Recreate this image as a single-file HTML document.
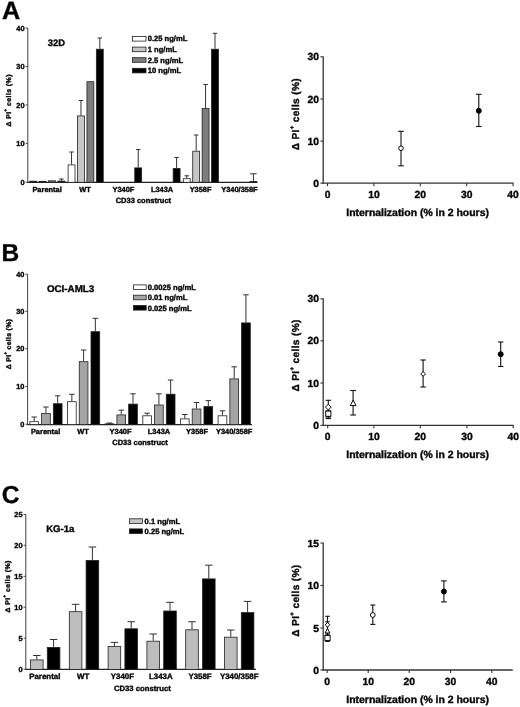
<!DOCTYPE html>
<html><head><meta charset="utf-8"><title>Figure</title>
<style>
html,body{margin:0;padding:0;background:#fff;}
svg{display:block;text-rendering:geometricPrecision;will-change:transform;font-family:"Liberation Sans",sans-serif;font-weight:bold;fill:#000;filter:blur(0.32px);}
</style></head><body>
<svg width="520" height="707" viewBox="0 0 520 707">
<rect x="0" y="0" width="520" height="707" fill="#fff" stroke="none"/>
<text x="2.00" y="18.70" font-size="25.2" text-anchor="start" stroke="#111" stroke-width="0.4" >A</text>
<line x1="27.80" y1="28.00" x2="27.80" y2="182.30" stroke="#444" stroke-width="1"/>
<line x1="27.30" y1="182.30" x2="257.50" y2="182.30" stroke="#222" stroke-width="1.2"/>
<line x1="25.60" y1="28.10" x2="27.80" y2="28.10" stroke="#444" stroke-width="1"/>
<text x="24.60" y="30.70" font-size="7.4" text-anchor="end" stroke="#111" stroke-width="0.4" >40</text>
<line x1="25.60" y1="66.50" x2="27.80" y2="66.50" stroke="#444" stroke-width="1"/>
<text x="24.60" y="69.10" font-size="7.4" text-anchor="end" stroke="#111" stroke-width="0.4" >30</text>
<line x1="25.60" y1="105.00" x2="27.80" y2="105.00" stroke="#444" stroke-width="1"/>
<text x="24.60" y="107.60" font-size="7.4" text-anchor="end" stroke="#111" stroke-width="0.4" >20</text>
<line x1="25.60" y1="143.40" x2="27.80" y2="143.40" stroke="#444" stroke-width="1"/>
<text x="24.60" y="146.00" font-size="7.4" text-anchor="end" stroke="#111" stroke-width="0.4" >10</text>
<line x1="25.60" y1="182.20" x2="27.80" y2="182.20" stroke="#444" stroke-width="1"/>
<text x="24.60" y="184.80" font-size="7.4" text-anchor="end" stroke="#111" stroke-width="0.4" >0</text>
<text transform="translate(11.30,100.30) rotate(-90)" font-size="6.9" text-anchor="middle" letter-spacing="0.44" stroke="#111" stroke-width="0.4">&#916; PI<tspan dy="-4.0" font-size="4.4">+</tspan><tspan dy="4.0"> cells (%)</tspan></text>
<text x="47.80" y="46.10" font-size="9.4" text-anchor="start" stroke="#111" stroke-width="0.4" >32D</text>
<rect x="132.40" y="36.50" width="13.60" height="4.60" fill="#fff" stroke="#222" stroke-width="0.8"/>
<text x="147.70" y="41.40" font-size="7.6" text-anchor="start" stroke="#111" stroke-width="0.4" >0.25 ng/mL</text>
<rect x="132.40" y="47.10" width="13.60" height="4.60" fill="#c6c6c6" stroke="#222" stroke-width="0.8"/>
<text x="147.70" y="52.00" font-size="7.6" text-anchor="start" stroke="#111" stroke-width="0.4" >1 ng/mL</text>
<rect x="132.40" y="57.70" width="13.60" height="4.60" fill="#7d7d7d" stroke="#222" stroke-width="0.8"/>
<text x="147.70" y="62.60" font-size="7.6" text-anchor="start" stroke="#111" stroke-width="0.4" >2.5 ng/mL</text>
<rect x="132.40" y="68.30" width="13.60" height="4.60" fill="#000" stroke="#222" stroke-width="0.8"/>
<text x="147.70" y="73.20" font-size="7.6" text-anchor="start" stroke="#111" stroke-width="0.4" >10 ng/mL</text>
<rect x="29.30" y="180.80" width="7.70" height="1.50" fill="#222"/>
<rect x="38.72" y="180.90" width="7.70" height="1.40" fill="#222"/>
<rect x="48.54" y="180.80" width="6.90" height="1.50" fill="#7d7d7d" stroke="#222" stroke-width="0.8"/>
<line x1="61.41" y1="179.00" x2="61.41" y2="181.20" stroke="#333" stroke-width="1"/>
<line x1="59.16" y1="179.00" x2="63.66" y2="179.00" stroke="#333" stroke-width="1"/>
<rect x="57.56" y="180.70" width="7.70" height="1.60" fill="#222"/>
<line x1="71.55" y1="152.00" x2="71.55" y2="164.50" stroke="#333" stroke-width="1"/>
<line x1="69.30" y1="152.00" x2="73.80" y2="152.00" stroke="#333" stroke-width="1"/>
<rect x="68.10" y="164.90" width="6.90" height="17.40" fill="#fff" stroke="#222" stroke-width="0.8"/>
<line x1="80.97" y1="100.50" x2="80.97" y2="115.50" stroke="#333" stroke-width="1"/>
<line x1="78.72" y1="100.50" x2="83.22" y2="100.50" stroke="#333" stroke-width="1"/>
<rect x="77.52" y="115.90" width="6.90" height="66.40" fill="#c6c6c6" stroke="#222" stroke-width="0.8"/>
<rect x="86.94" y="81.70" width="6.90" height="100.60" fill="#7d7d7d" stroke="#222" stroke-width="0.8"/>
<line x1="99.81" y1="38.00" x2="99.81" y2="48.80" stroke="#333" stroke-width="1"/>
<line x1="97.56" y1="38.00" x2="102.06" y2="38.00" stroke="#333" stroke-width="1"/>
<rect x="96.36" y="49.20" width="6.90" height="133.10" fill="#000" stroke="#222" stroke-width="0.8"/>
<line x1="138.21" y1="149.50" x2="138.21" y2="167.50" stroke="#333" stroke-width="1"/>
<line x1="135.96" y1="149.50" x2="140.46" y2="149.50" stroke="#333" stroke-width="1"/>
<rect x="134.76" y="167.90" width="6.90" height="14.40" fill="#000" stroke="#222" stroke-width="0.8"/>
<line x1="176.61" y1="157.50" x2="176.61" y2="168.00" stroke="#333" stroke-width="1"/>
<line x1="174.36" y1="157.50" x2="178.86" y2="157.50" stroke="#333" stroke-width="1"/>
<rect x="173.16" y="168.40" width="6.90" height="13.90" fill="#000" stroke="#222" stroke-width="0.8"/>
<line x1="186.75" y1="175.80" x2="186.75" y2="178.30" stroke="#333" stroke-width="1"/>
<line x1="184.50" y1="175.80" x2="189.00" y2="175.80" stroke="#333" stroke-width="1"/>
<rect x="183.30" y="178.70" width="6.90" height="3.60" fill="#fff" stroke="#222" stroke-width="0.8"/>
<line x1="196.17" y1="135.00" x2="196.17" y2="150.80" stroke="#333" stroke-width="1"/>
<line x1="193.92" y1="135.00" x2="198.42" y2="135.00" stroke="#333" stroke-width="1"/>
<rect x="192.72" y="151.20" width="6.90" height="31.10" fill="#c6c6c6" stroke="#222" stroke-width="0.8"/>
<line x1="205.59" y1="84.50" x2="205.59" y2="108.00" stroke="#333" stroke-width="1"/>
<line x1="203.34" y1="84.50" x2="207.84" y2="84.50" stroke="#333" stroke-width="1"/>
<rect x="202.14" y="108.40" width="6.90" height="73.90" fill="#7d7d7d" stroke="#222" stroke-width="0.8"/>
<line x1="215.01" y1="33.30" x2="215.01" y2="48.80" stroke="#333" stroke-width="1"/>
<line x1="212.76" y1="33.30" x2="217.26" y2="33.30" stroke="#333" stroke-width="1"/>
<rect x="211.56" y="49.20" width="6.90" height="133.10" fill="#000" stroke="#222" stroke-width="0.8"/>
<line x1="253.41" y1="173.80" x2="253.41" y2="181.60" stroke="#333" stroke-width="1"/>
<line x1="250.16" y1="173.80" x2="256.66" y2="173.80" stroke="#333" stroke-width="1"/>
<rect x="249.56" y="181.10" width="7.70" height="1.20" fill="#222"/>
<text x="47.10" y="191.80" font-size="7.45" text-anchor="middle" stroke="#111" stroke-width="0.4" >Parental</text>
<text x="85.00" y="191.80" font-size="7.45" text-anchor="middle" stroke="#111" stroke-width="0.4" >WT</text>
<text x="123.40" y="191.80" font-size="7.45" text-anchor="middle" stroke="#111" stroke-width="0.4" >Y340F</text>
<text x="162.10" y="191.80" font-size="7.45" text-anchor="middle" stroke="#111" stroke-width="0.4" >L343A</text>
<text x="200.60" y="191.80" font-size="7.45" text-anchor="middle" stroke="#111" stroke-width="0.4" >Y358F</text>
<text x="239.40" y="191.80" font-size="7.45" text-anchor="middle" stroke="#111" stroke-width="0.4" >Y340/358F</text>
<text x="143.40" y="202.80" font-size="7.5" text-anchor="middle" stroke="#111" stroke-width="0.4" >CD33 construct</text>
<text x="1.60" y="261.30" font-size="24.5" text-anchor="start" stroke="#111" stroke-width="0.4" >B</text>
<line x1="27.60" y1="274.00" x2="27.60" y2="424.60" stroke="#444" stroke-width="1"/>
<line x1="27.10" y1="424.60" x2="252.00" y2="424.60" stroke="#222" stroke-width="1.2"/>
<line x1="25.40" y1="274.20" x2="27.60" y2="274.20" stroke="#444" stroke-width="1"/>
<text x="24.40" y="276.80" font-size="7.4" text-anchor="end" stroke="#111" stroke-width="0.4" >40</text>
<line x1="25.40" y1="311.40" x2="27.60" y2="311.40" stroke="#444" stroke-width="1"/>
<text x="24.40" y="314.00" font-size="7.4" text-anchor="end" stroke="#111" stroke-width="0.4" >30</text>
<line x1="25.40" y1="348.80" x2="27.60" y2="348.80" stroke="#444" stroke-width="1"/>
<text x="24.40" y="351.40" font-size="7.4" text-anchor="end" stroke="#111" stroke-width="0.4" >20</text>
<line x1="25.40" y1="386.60" x2="27.60" y2="386.60" stroke="#444" stroke-width="1"/>
<text x="24.40" y="389.20" font-size="7.4" text-anchor="end" stroke="#111" stroke-width="0.4" >10</text>
<line x1="25.40" y1="424.20" x2="27.60" y2="424.20" stroke="#444" stroke-width="1"/>
<text x="24.40" y="426.80" font-size="7.4" text-anchor="end" stroke="#111" stroke-width="0.4" >0</text>
<text transform="translate(11.30,344.00) rotate(-90)" font-size="6.9" text-anchor="middle" letter-spacing="0.3" stroke="#111" stroke-width="0.4">&#916; PI<tspan dy="-4.0" font-size="4.4">+</tspan><tspan dy="4.0"> cells (%)</tspan></text>
<text x="46.90" y="292.10" font-size="9.8" text-anchor="start" stroke="#111" stroke-width="0.4" >OCI-AML3</text>
<rect x="133.40" y="284.90" width="12.80" height="4.60" fill="#fff" stroke="#222" stroke-width="0.8"/>
<text x="147.70" y="289.90" font-size="7.6" text-anchor="start" stroke="#111" stroke-width="0.4" >0.0025 ng/mL</text>
<rect x="133.40" y="295.20" width="12.80" height="4.60" fill="#a4a4a4" stroke="#222" stroke-width="0.8"/>
<text x="147.70" y="300.20" font-size="7.6" text-anchor="start" stroke="#111" stroke-width="0.4" >0.01 ng/mL</text>
<rect x="133.40" y="305.50" width="12.80" height="4.60" fill="#000" stroke="#222" stroke-width="0.8"/>
<text x="147.70" y="310.50" font-size="7.6" text-anchor="start" stroke="#111" stroke-width="0.4" >0.025 ng/mL</text>
<line x1="34.20" y1="417.00" x2="34.20" y2="421.30" stroke="#333" stroke-width="1"/>
<line x1="31.45" y1="417.00" x2="36.95" y2="417.00" stroke="#333" stroke-width="1"/>
<rect x="29.85" y="421.70" width="8.70" height="2.90" fill="#fff" stroke="#222" stroke-width="0.8"/>
<line x1="45.95" y1="407.00" x2="45.95" y2="413.00" stroke="#333" stroke-width="1"/>
<line x1="43.20" y1="407.00" x2="48.70" y2="407.00" stroke="#333" stroke-width="1"/>
<rect x="41.60" y="413.40" width="8.70" height="11.20" fill="#a4a4a4" stroke="#222" stroke-width="0.8"/>
<line x1="57.70" y1="395.80" x2="57.70" y2="403.30" stroke="#333" stroke-width="1"/>
<line x1="54.95" y1="395.80" x2="60.45" y2="395.80" stroke="#333" stroke-width="1"/>
<rect x="53.35" y="403.70" width="8.70" height="20.90" fill="#000" stroke="#222" stroke-width="0.8"/>
<line x1="71.85" y1="394.30" x2="71.85" y2="401.30" stroke="#333" stroke-width="1"/>
<line x1="69.10" y1="394.30" x2="74.60" y2="394.30" stroke="#333" stroke-width="1"/>
<rect x="67.50" y="401.70" width="8.70" height="22.90" fill="#fff" stroke="#222" stroke-width="0.8"/>
<line x1="83.60" y1="350.00" x2="83.60" y2="361.30" stroke="#333" stroke-width="1"/>
<line x1="80.85" y1="350.00" x2="86.35" y2="350.00" stroke="#333" stroke-width="1"/>
<rect x="79.25" y="361.70" width="8.70" height="62.90" fill="#a4a4a4" stroke="#222" stroke-width="0.8"/>
<line x1="95.35" y1="318.30" x2="95.35" y2="331.30" stroke="#333" stroke-width="1"/>
<line x1="92.60" y1="318.30" x2="98.10" y2="318.30" stroke="#333" stroke-width="1"/>
<rect x="91.00" y="331.70" width="8.70" height="92.90" fill="#000" stroke="#222" stroke-width="0.8"/>
<line x1="109.50" y1="423.00" x2="109.50" y2="423.90" stroke="#333" stroke-width="1"/>
<line x1="106.75" y1="423.00" x2="112.25" y2="423.00" stroke="#333" stroke-width="1"/>
<rect x="104.75" y="423.40" width="9.50" height="1.20" fill="#222"/>
<line x1="121.25" y1="410.20" x2="121.25" y2="414.50" stroke="#333" stroke-width="1"/>
<line x1="118.50" y1="410.20" x2="124.00" y2="410.20" stroke="#333" stroke-width="1"/>
<rect x="116.90" y="414.90" width="8.70" height="9.70" fill="#a4a4a4" stroke="#222" stroke-width="0.8"/>
<line x1="133.00" y1="393.80" x2="133.00" y2="403.70" stroke="#333" stroke-width="1"/>
<line x1="130.25" y1="393.80" x2="135.75" y2="393.80" stroke="#333" stroke-width="1"/>
<rect x="128.65" y="404.10" width="8.70" height="20.50" fill="#000" stroke="#222" stroke-width="0.8"/>
<line x1="147.15" y1="413.20" x2="147.15" y2="415.40" stroke="#333" stroke-width="1"/>
<line x1="144.40" y1="413.20" x2="149.90" y2="413.20" stroke="#333" stroke-width="1"/>
<rect x="142.80" y="415.80" width="8.70" height="8.80" fill="#fff" stroke="#222" stroke-width="0.8"/>
<line x1="158.90" y1="393.80" x2="158.90" y2="404.60" stroke="#333" stroke-width="1"/>
<line x1="156.15" y1="393.80" x2="161.65" y2="393.80" stroke="#333" stroke-width="1"/>
<rect x="154.55" y="405.00" width="8.70" height="19.60" fill="#a4a4a4" stroke="#222" stroke-width="0.8"/>
<line x1="170.65" y1="380.00" x2="170.65" y2="393.80" stroke="#333" stroke-width="1"/>
<line x1="167.90" y1="380.00" x2="173.40" y2="380.00" stroke="#333" stroke-width="1"/>
<rect x="166.30" y="394.20" width="8.70" height="30.40" fill="#000" stroke="#222" stroke-width="0.8"/>
<line x1="184.80" y1="414.50" x2="184.80" y2="418.50" stroke="#333" stroke-width="1"/>
<line x1="182.05" y1="414.50" x2="187.55" y2="414.50" stroke="#333" stroke-width="1"/>
<rect x="180.45" y="418.90" width="8.70" height="5.70" fill="#fff" stroke="#222" stroke-width="0.8"/>
<line x1="196.55" y1="402.50" x2="196.55" y2="408.60" stroke="#333" stroke-width="1"/>
<line x1="193.80" y1="402.50" x2="199.30" y2="402.50" stroke="#333" stroke-width="1"/>
<rect x="192.20" y="409.00" width="8.70" height="15.60" fill="#a4a4a4" stroke="#222" stroke-width="0.8"/>
<line x1="208.30" y1="400.60" x2="208.30" y2="406.20" stroke="#333" stroke-width="1"/>
<line x1="205.55" y1="400.60" x2="211.05" y2="400.60" stroke="#333" stroke-width="1"/>
<rect x="203.95" y="406.60" width="8.70" height="18.00" fill="#000" stroke="#222" stroke-width="0.8"/>
<line x1="222.45" y1="410.80" x2="222.45" y2="415.40" stroke="#333" stroke-width="1"/>
<line x1="219.70" y1="410.80" x2="225.20" y2="410.80" stroke="#333" stroke-width="1"/>
<rect x="218.10" y="415.80" width="8.70" height="8.80" fill="#fff" stroke="#222" stroke-width="0.8"/>
<line x1="234.20" y1="366.80" x2="234.20" y2="378.50" stroke="#333" stroke-width="1"/>
<line x1="231.45" y1="366.80" x2="236.95" y2="366.80" stroke="#333" stroke-width="1"/>
<rect x="229.85" y="378.90" width="8.70" height="45.70" fill="#a4a4a4" stroke="#222" stroke-width="0.8"/>
<line x1="245.95" y1="294.80" x2="245.95" y2="322.50" stroke="#333" stroke-width="1"/>
<line x1="243.20" y1="294.80" x2="248.70" y2="294.80" stroke="#333" stroke-width="1"/>
<rect x="241.60" y="322.90" width="8.70" height="101.70" fill="#000" stroke="#222" stroke-width="0.8"/>
<text x="45.60" y="433.80" font-size="7.45" text-anchor="middle" stroke="#111" stroke-width="0.4" >Parental</text>
<text x="83.10" y="433.80" font-size="7.45" text-anchor="middle" stroke="#111" stroke-width="0.4" >WT</text>
<text x="120.50" y="433.80" font-size="7.45" text-anchor="middle" stroke="#111" stroke-width="0.4" >Y340F</text>
<text x="159.00" y="433.80" font-size="7.45" text-anchor="middle" stroke="#111" stroke-width="0.4" >L343A</text>
<text x="197.00" y="433.80" font-size="7.45" text-anchor="middle" stroke="#111" stroke-width="0.4" >Y358F</text>
<text x="234.20" y="433.80" font-size="7.45" text-anchor="middle" stroke="#111" stroke-width="0.4" >Y340/358F</text>
<text x="140.00" y="444.70" font-size="7.5" text-anchor="middle" stroke="#111" stroke-width="0.4" >CD33 construct</text>
<text x="1.80" y="503.30" font-size="24.5" text-anchor="start" stroke="#111" stroke-width="0.4" >C</text>
<line x1="25.80" y1="514.30" x2="25.80" y2="669.40" stroke="#444" stroke-width="1"/>
<line x1="25.30" y1="669.40" x2="256.00" y2="669.40" stroke="#222" stroke-width="1.2"/>
<line x1="23.60" y1="514.50" x2="25.80" y2="514.50" stroke="#444" stroke-width="1"/>
<text x="22.60" y="517.10" font-size="7.4" text-anchor="end" stroke="#111" stroke-width="0.4" >25</text>
<line x1="23.60" y1="545.30" x2="25.80" y2="545.30" stroke="#444" stroke-width="1"/>
<text x="22.60" y="547.90" font-size="7.4" text-anchor="end" stroke="#111" stroke-width="0.4" >20</text>
<line x1="23.60" y1="576.30" x2="25.80" y2="576.30" stroke="#444" stroke-width="1"/>
<text x="22.60" y="578.90" font-size="7.4" text-anchor="end" stroke="#111" stroke-width="0.4" >15</text>
<line x1="23.60" y1="607.20" x2="25.80" y2="607.20" stroke="#444" stroke-width="1"/>
<text x="22.60" y="609.80" font-size="7.4" text-anchor="end" stroke="#111" stroke-width="0.4" >10</text>
<line x1="23.60" y1="638.20" x2="25.80" y2="638.20" stroke="#444" stroke-width="1"/>
<text x="22.60" y="640.80" font-size="7.4" text-anchor="end" stroke="#111" stroke-width="0.4" >5</text>
<line x1="23.60" y1="669.20" x2="25.80" y2="669.20" stroke="#444" stroke-width="1"/>
<text x="22.60" y="671.80" font-size="7.4" text-anchor="end" stroke="#111" stroke-width="0.4" >0</text>
<text transform="translate(10.00,586.40) rotate(-90)" font-size="6.9" text-anchor="middle" letter-spacing="0.42" stroke="#111" stroke-width="0.4">&#916; PI<tspan dy="-4.0" font-size="4.4">+</tspan><tspan dy="4.0"> cells (%)</tspan></text>
<text x="46.20" y="532.10" font-size="9.6" text-anchor="start" stroke="#111" stroke-width="0.4" >KG-1a</text>
<rect x="129.40" y="518.80" width="13.00" height="4.60" fill="#c6c6c6" stroke="#222" stroke-width="0.8"/>
<text x="144.60" y="523.80" font-size="7.6" text-anchor="start" stroke="#111" stroke-width="0.4" >0.1 ng/mL</text>
<rect x="129.40" y="528.90" width="13.00" height="4.60" fill="#000" stroke="#222" stroke-width="0.8"/>
<text x="144.60" y="533.90" font-size="7.6" text-anchor="start" stroke="#111" stroke-width="0.4" >0.25 ng/mL</text>
<line x1="36.80" y1="655.50" x2="36.80" y2="659.50" stroke="#333" stroke-width="1"/>
<line x1="33.05" y1="655.50" x2="40.55" y2="655.50" stroke="#333" stroke-width="1"/>
<rect x="30.50" y="659.90" width="12.60" height="9.50" fill="#bdbdbd" stroke="#222" stroke-width="0.8"/>
<line x1="53.60" y1="639.50" x2="53.60" y2="647.00" stroke="#333" stroke-width="1"/>
<line x1="49.85" y1="639.50" x2="57.35" y2="639.50" stroke="#333" stroke-width="1"/>
<rect x="47.30" y="647.40" width="12.60" height="22.00" fill="#000" stroke="#222" stroke-width="0.8"/>
<line x1="75.60" y1="604.30" x2="75.60" y2="611.30" stroke="#333" stroke-width="1"/>
<line x1="71.85" y1="604.30" x2="79.35" y2="604.30" stroke="#333" stroke-width="1"/>
<rect x="69.30" y="611.70" width="12.60" height="57.70" fill="#bdbdbd" stroke="#222" stroke-width="0.8"/>
<line x1="92.40" y1="547.00" x2="92.40" y2="560.00" stroke="#333" stroke-width="1"/>
<line x1="88.65" y1="547.00" x2="96.15" y2="547.00" stroke="#333" stroke-width="1"/>
<rect x="86.10" y="560.40" width="12.60" height="109.00" fill="#000" stroke="#222" stroke-width="0.8"/>
<line x1="114.40" y1="642.40" x2="114.40" y2="646.00" stroke="#333" stroke-width="1"/>
<line x1="110.65" y1="642.40" x2="118.15" y2="642.40" stroke="#333" stroke-width="1"/>
<rect x="108.10" y="646.40" width="12.60" height="23.00" fill="#bdbdbd" stroke="#222" stroke-width="0.8"/>
<line x1="131.20" y1="621.70" x2="131.20" y2="628.40" stroke="#333" stroke-width="1"/>
<line x1="127.45" y1="621.70" x2="134.95" y2="621.70" stroke="#333" stroke-width="1"/>
<rect x="124.90" y="628.80" width="12.60" height="40.60" fill="#000" stroke="#222" stroke-width="0.8"/>
<line x1="153.20" y1="634.00" x2="153.20" y2="640.80" stroke="#333" stroke-width="1"/>
<line x1="149.45" y1="634.00" x2="156.95" y2="634.00" stroke="#333" stroke-width="1"/>
<rect x="146.90" y="641.20" width="12.60" height="28.20" fill="#bdbdbd" stroke="#222" stroke-width="0.8"/>
<line x1="170.00" y1="602.30" x2="170.00" y2="610.60" stroke="#333" stroke-width="1"/>
<line x1="166.25" y1="602.30" x2="173.75" y2="602.30" stroke="#333" stroke-width="1"/>
<rect x="163.70" y="611.00" width="12.60" height="58.40" fill="#000" stroke="#222" stroke-width="0.8"/>
<line x1="192.00" y1="621.70" x2="192.00" y2="629.40" stroke="#333" stroke-width="1"/>
<line x1="188.25" y1="621.70" x2="195.75" y2="621.70" stroke="#333" stroke-width="1"/>
<rect x="185.70" y="629.80" width="12.60" height="39.60" fill="#bdbdbd" stroke="#222" stroke-width="0.8"/>
<line x1="208.80" y1="565.20" x2="208.80" y2="578.50" stroke="#333" stroke-width="1"/>
<line x1="205.05" y1="565.20" x2="212.55" y2="565.20" stroke="#333" stroke-width="1"/>
<rect x="202.50" y="578.90" width="12.60" height="90.50" fill="#000" stroke="#222" stroke-width="0.8"/>
<line x1="230.80" y1="630.00" x2="230.80" y2="636.80" stroke="#333" stroke-width="1"/>
<line x1="227.05" y1="630.00" x2="234.55" y2="630.00" stroke="#333" stroke-width="1"/>
<rect x="224.50" y="637.20" width="12.60" height="32.20" fill="#bdbdbd" stroke="#222" stroke-width="0.8"/>
<line x1="247.60" y1="601.40" x2="247.60" y2="612.20" stroke="#333" stroke-width="1"/>
<line x1="243.85" y1="601.40" x2="251.35" y2="601.40" stroke="#333" stroke-width="1"/>
<rect x="241.30" y="612.60" width="12.60" height="56.80" fill="#000" stroke="#222" stroke-width="0.8"/>
<text x="44.80" y="679.30" font-size="7.9" text-anchor="middle" stroke="#111" stroke-width="0.4" >Parental</text>
<text x="83.10" y="679.30" font-size="7.9" text-anchor="middle" stroke="#111" stroke-width="0.4" >WT</text>
<text x="122.40" y="679.30" font-size="7.9" text-anchor="middle" stroke="#111" stroke-width="0.4" >Y340F</text>
<text x="160.80" y="679.30" font-size="7.9" text-anchor="middle" stroke="#111" stroke-width="0.4" >L343A</text>
<text x="200.00" y="679.30" font-size="7.9" text-anchor="middle" stroke="#111" stroke-width="0.4" >Y358F</text>
<text x="239.20" y="679.30" font-size="7.9" text-anchor="middle" stroke="#111" stroke-width="0.4" >Y340/358F</text>
<text x="142.40" y="690.70" font-size="7.7" text-anchor="middle" stroke="#111" stroke-width="0.4" >CD33 construct</text>
<line x1="323.20" y1="56.50" x2="323.20" y2="183.20" stroke="#333" stroke-width="1.3"/>
<line x1="322.60" y1="183.20" x2="513.60" y2="183.20" stroke="#333" stroke-width="1.3"/>
<line x1="320.40" y1="56.80" x2="323.20" y2="56.80" stroke="#333" stroke-width="1.1"/>
<text x="319.00" y="60.40" font-size="10.3" text-anchor="end" stroke="#111" stroke-width="0.4" >30</text>
<line x1="320.40" y1="99.00" x2="323.20" y2="99.00" stroke="#333" stroke-width="1.1"/>
<text x="319.00" y="102.60" font-size="10.3" text-anchor="end" stroke="#111" stroke-width="0.4" >20</text>
<line x1="320.40" y1="141.10" x2="323.20" y2="141.10" stroke="#333" stroke-width="1.1"/>
<text x="319.00" y="144.70" font-size="10.3" text-anchor="end" stroke="#111" stroke-width="0.4" >10</text>
<line x1="320.40" y1="183.20" x2="323.20" y2="183.20" stroke="#333" stroke-width="1.1"/>
<text x="319.00" y="186.80" font-size="10.3" text-anchor="end" stroke="#111" stroke-width="0.4" >0</text>
<line x1="327.50" y1="183.20" x2="327.50" y2="186.20" stroke="#333" stroke-width="1.1"/>
<text x="327.50" y="197.60" font-size="10.3" text-anchor="middle" stroke="#111" stroke-width="0.4" >0</text>
<line x1="373.90" y1="183.20" x2="373.90" y2="186.20" stroke="#333" stroke-width="1.1"/>
<text x="373.90" y="197.60" font-size="10.3" text-anchor="middle" stroke="#111" stroke-width="0.4" >10</text>
<line x1="420.30" y1="183.20" x2="420.30" y2="186.20" stroke="#333" stroke-width="1.1"/>
<text x="420.30" y="197.60" font-size="10.3" text-anchor="middle" stroke="#111" stroke-width="0.4" >20</text>
<line x1="466.70" y1="183.20" x2="466.70" y2="186.20" stroke="#333" stroke-width="1.1"/>
<text x="466.70" y="197.60" font-size="10.3" text-anchor="middle" stroke="#111" stroke-width="0.4" >30</text>
<line x1="513.10" y1="183.20" x2="513.10" y2="186.20" stroke="#333" stroke-width="1.1"/>
<text x="513.10" y="197.60" font-size="10.3" text-anchor="middle" stroke="#111" stroke-width="0.4" >40</text>
<text transform="translate(298.50,114.20) rotate(-90)" font-size="10.1" text-anchor="middle" letter-spacing="0.35" stroke="#111" stroke-width="0.4">&#916; PI<tspan dy="-5.0" font-size="6.2">+</tspan><tspan dy="5.0"> cells (%)</tspan></text>
<text x="417.60" y="216.00" font-size="10.45" text-anchor="middle" stroke="#111" stroke-width="0.4" >Internalization (% in 2 hours)</text>
<line x1="401.00" y1="131.30" x2="401.00" y2="165.80" stroke="#111" stroke-width="1.1"/>
<line x1="398.20" y1="131.30" x2="403.80" y2="131.30" stroke="#111" stroke-width="1.1"/>
<line x1="398.20" y1="165.80" x2="403.80" y2="165.80" stroke="#111" stroke-width="1.1"/>
<circle cx="401.00" cy="148.30" r="2.3" fill="#fff" stroke="#000" stroke-width="0.95"/>
<line x1="478.80" y1="94.30" x2="478.80" y2="126.50" stroke="#111" stroke-width="1.1"/>
<line x1="476.00" y1="94.30" x2="481.60" y2="94.30" stroke="#111" stroke-width="1.1"/>
<line x1="476.00" y1="126.50" x2="481.60" y2="126.50" stroke="#111" stroke-width="1.1"/>
<circle cx="478.80" cy="110.80" r="2.5" fill="#000" stroke="#000" stroke-width="0.95"/>
<line x1="323.20" y1="298.50" x2="323.20" y2="425.30" stroke="#333" stroke-width="1.3"/>
<line x1="322.60" y1="425.30" x2="513.70" y2="425.30" stroke="#333" stroke-width="1.3"/>
<line x1="320.40" y1="298.80" x2="323.20" y2="298.80" stroke="#333" stroke-width="1.1"/>
<text x="319.00" y="302.40" font-size="10.3" text-anchor="end" stroke="#111" stroke-width="0.4" >30</text>
<line x1="320.40" y1="340.80" x2="323.20" y2="340.80" stroke="#333" stroke-width="1.1"/>
<text x="319.00" y="344.40" font-size="10.3" text-anchor="end" stroke="#111" stroke-width="0.4" >20</text>
<line x1="320.40" y1="383.00" x2="323.20" y2="383.00" stroke="#333" stroke-width="1.1"/>
<text x="319.00" y="386.60" font-size="10.3" text-anchor="end" stroke="#111" stroke-width="0.4" >10</text>
<line x1="320.40" y1="425.30" x2="323.20" y2="425.30" stroke="#333" stroke-width="1.1"/>
<text x="319.00" y="428.90" font-size="10.3" text-anchor="end" stroke="#111" stroke-width="0.4" >0</text>
<line x1="327.70" y1="425.30" x2="327.70" y2="428.30" stroke="#333" stroke-width="1.1"/>
<text x="327.70" y="439.50" font-size="10.3" text-anchor="middle" stroke="#111" stroke-width="0.4" >0</text>
<line x1="373.90" y1="425.30" x2="373.90" y2="428.30" stroke="#333" stroke-width="1.1"/>
<text x="373.90" y="439.50" font-size="10.3" text-anchor="middle" stroke="#111" stroke-width="0.4" >10</text>
<line x1="420.30" y1="425.30" x2="420.30" y2="428.30" stroke="#333" stroke-width="1.1"/>
<text x="420.30" y="439.50" font-size="10.3" text-anchor="middle" stroke="#111" stroke-width="0.4" >20</text>
<line x1="466.90" y1="425.30" x2="466.90" y2="428.30" stroke="#333" stroke-width="1.1"/>
<text x="466.90" y="439.50" font-size="10.3" text-anchor="middle" stroke="#111" stroke-width="0.4" >30</text>
<line x1="513.20" y1="425.30" x2="513.20" y2="428.30" stroke="#333" stroke-width="1.1"/>
<text x="513.20" y="439.50" font-size="10.3" text-anchor="middle" stroke="#111" stroke-width="0.4" >40</text>
<text transform="translate(298.50,355.40) rotate(-90)" font-size="10.1" text-anchor="middle" letter-spacing="0.35" stroke="#111" stroke-width="0.4">&#916; PI<tspan dy="-5.0" font-size="6.2">+</tspan><tspan dy="5.0"> cells (%)</tspan></text>
<text x="417.60" y="458.10" font-size="10.45" text-anchor="middle" stroke="#111" stroke-width="0.4" >Internalization (% in 2 hours)</text>
<line x1="328.30" y1="400.30" x2="328.30" y2="418.60" stroke="#111" stroke-width="1.1"/>
<line x1="325.60" y1="400.30" x2="331.00" y2="400.30" stroke="#111" stroke-width="1.1"/>
<line x1="325.60" y1="418.60" x2="331.00" y2="418.60" stroke="#111" stroke-width="1.1"/>
<line x1="328.30" y1="411.00" x2="328.30" y2="417.00" stroke="#111" stroke-width="1.1"/>
<line x1="325.60" y1="411.00" x2="331.00" y2="411.00" stroke="#111" stroke-width="1.1"/>
<line x1="325.60" y1="417.00" x2="331.00" y2="417.00" stroke="#111" stroke-width="1.1"/>
<polygon points="328.30,404.20 331.20,407.10 328.30,410.00 325.40,407.10" fill="#fff" stroke="#000" stroke-width="0.95"/>
<rect x="325.70" y="411.10" width="5.20" height="5.20" fill="#fff" stroke="#000" stroke-width="0.95"/>
<line x1="353.10" y1="390.50" x2="353.10" y2="415.00" stroke="#111" stroke-width="1.1"/>
<line x1="350.20" y1="390.50" x2="356.00" y2="390.50" stroke="#111" stroke-width="1.1"/>
<line x1="350.20" y1="415.00" x2="356.00" y2="415.00" stroke="#111" stroke-width="1.1"/>
<polygon points="353.10,400.20 356.00,405.60 350.20,405.60" fill="#fff" stroke="#000" stroke-width="0.95"/>
<line x1="423.10" y1="360.00" x2="423.10" y2="387.00" stroke="#111" stroke-width="1.1"/>
<line x1="420.40" y1="360.00" x2="425.80" y2="360.00" stroke="#111" stroke-width="1.1"/>
<line x1="420.40" y1="387.00" x2="425.80" y2="387.00" stroke="#111" stroke-width="1.1"/>
<polygon points="423.10,371.50 425.50,373.90 423.10,376.30 420.70,373.90" fill="#fff" stroke="#000" stroke-width="0.95"/>
<line x1="500.70" y1="342.00" x2="500.70" y2="366.50" stroke="#111" stroke-width="1.1"/>
<line x1="498.00" y1="342.00" x2="503.40" y2="342.00" stroke="#111" stroke-width="1.1"/>
<line x1="498.00" y1="366.50" x2="503.40" y2="366.50" stroke="#111" stroke-width="1.1"/>
<circle cx="500.70" cy="354.20" r="2.5" fill="#000" stroke="#000" stroke-width="0.95"/>
<line x1="323.20" y1="542.80" x2="323.20" y2="670.00" stroke="#333" stroke-width="1.3"/>
<line x1="322.60" y1="670.00" x2="512.80" y2="670.00" stroke="#333" stroke-width="1.3"/>
<line x1="320.40" y1="543.00" x2="323.20" y2="543.00" stroke="#333" stroke-width="1.1"/>
<text x="319.00" y="546.60" font-size="10.3" text-anchor="end" stroke="#111" stroke-width="0.4" >15</text>
<line x1="320.40" y1="585.50" x2="323.20" y2="585.50" stroke="#333" stroke-width="1.1"/>
<text x="319.00" y="589.10" font-size="10.3" text-anchor="end" stroke="#111" stroke-width="0.4" >10</text>
<line x1="320.40" y1="628.00" x2="323.20" y2="628.00" stroke="#333" stroke-width="1.1"/>
<text x="319.00" y="631.60" font-size="10.3" text-anchor="end" stroke="#111" stroke-width="0.4" >5</text>
<line x1="320.40" y1="670.00" x2="323.20" y2="670.00" stroke="#333" stroke-width="1.1"/>
<text x="319.00" y="673.60" font-size="10.3" text-anchor="end" stroke="#111" stroke-width="0.4" >0</text>
<line x1="327.20" y1="670.00" x2="327.20" y2="673.00" stroke="#333" stroke-width="1.1"/>
<text x="327.20" y="684.80" font-size="10.3" text-anchor="middle" stroke="#111" stroke-width="0.4" >0</text>
<line x1="368.20" y1="670.00" x2="368.20" y2="673.00" stroke="#333" stroke-width="1.1"/>
<text x="368.20" y="684.80" font-size="10.3" text-anchor="middle" stroke="#111" stroke-width="0.4" >10</text>
<line x1="409.20" y1="670.00" x2="409.20" y2="673.00" stroke="#333" stroke-width="1.1"/>
<text x="409.20" y="684.80" font-size="10.3" text-anchor="middle" stroke="#111" stroke-width="0.4" >20</text>
<line x1="450.60" y1="670.00" x2="450.60" y2="673.00" stroke="#333" stroke-width="1.1"/>
<text x="450.60" y="684.80" font-size="10.3" text-anchor="middle" stroke="#111" stroke-width="0.4" >30</text>
<line x1="491.80" y1="670.00" x2="491.80" y2="673.00" stroke="#333" stroke-width="1.1"/>
<text x="491.80" y="684.80" font-size="10.3" text-anchor="middle" stroke="#111" stroke-width="0.4" >40</text>
<text transform="translate(298.50,600.60) rotate(-90)" font-size="10.1" text-anchor="middle" letter-spacing="0.35" stroke="#111" stroke-width="0.4">&#916; PI<tspan dy="-5.0" font-size="6.2">+</tspan><tspan dy="5.0"> cells (%)</tspan></text>
<text x="417.60" y="702.50" font-size="10.45" text-anchor="middle" stroke="#111" stroke-width="0.4" >Internalization (% in 2 hours)</text>
<line x1="327.50" y1="616.30" x2="327.50" y2="634.20" stroke="#111" stroke-width="1.1"/>
<line x1="325.20" y1="616.30" x2="329.80" y2="616.30" stroke="#111" stroke-width="1.1"/>
<line x1="325.20" y1="634.20" x2="329.80" y2="634.20" stroke="#111" stroke-width="1.1"/>
<line x1="327.50" y1="621.80" x2="327.50" y2="641.40" stroke="#111" stroke-width="1.1"/>
<line x1="325.20" y1="621.80" x2="329.80" y2="621.80" stroke="#111" stroke-width="1.1"/>
<line x1="325.20" y1="641.40" x2="329.80" y2="641.40" stroke="#111" stroke-width="1.1"/>
<polygon points="327.50,622.50 329.80,624.80 327.50,627.10 325.20,624.80" fill="#fff" stroke="#000" stroke-width="0.95"/>
<polygon points="327.50,628.60 329.90,633.00 325.10,633.00" fill="#fff" stroke="#000" stroke-width="0.95"/>
<rect x="324.90" y="635.40" width="5.20" height="5.20" fill="#fff" stroke="#000" stroke-width="0.95"/>
<line x1="372.80" y1="605.00" x2="372.80" y2="624.40" stroke="#111" stroke-width="1.1"/>
<line x1="370.30" y1="605.00" x2="375.30" y2="605.00" stroke="#111" stroke-width="1.1"/>
<line x1="370.30" y1="624.40" x2="375.30" y2="624.40" stroke="#111" stroke-width="1.1"/>
<circle cx="372.80" cy="615.00" r="2.4" fill="#fff" stroke="#000" stroke-width="0.95"/>
<line x1="443.90" y1="580.90" x2="443.90" y2="601.90" stroke="#111" stroke-width="1.1"/>
<line x1="441.00" y1="580.90" x2="446.80" y2="580.90" stroke="#111" stroke-width="1.1"/>
<line x1="441.00" y1="601.90" x2="446.80" y2="601.90" stroke="#111" stroke-width="1.1"/>
<circle cx="443.90" cy="591.50" r="2.5" fill="#000" stroke="#000" stroke-width="0.95"/>
</svg>
</body></html>
